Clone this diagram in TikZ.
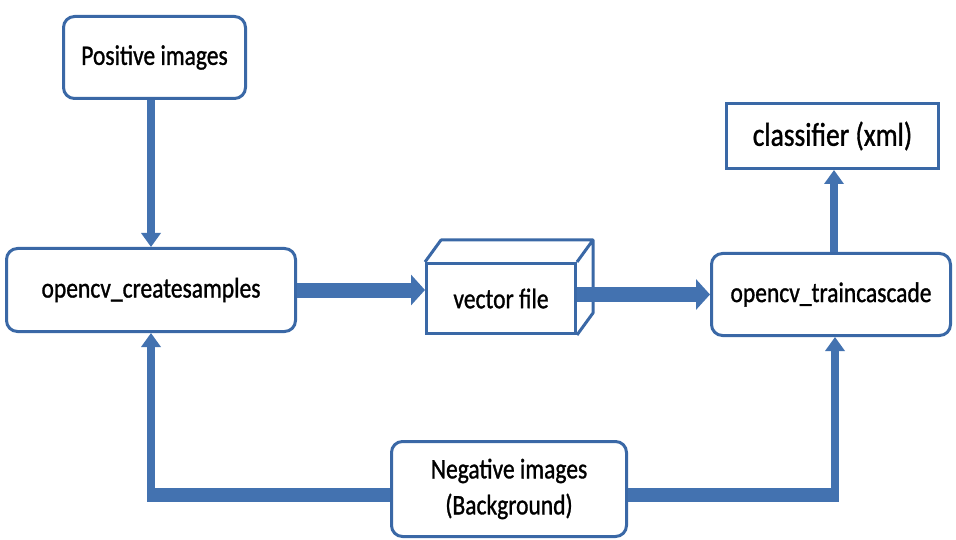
\documentclass[tikz,border=0pt]{standalone}
\usepackage{fontspec}
\usepackage{graphicx}
\setmainfont{Carlito}
\newfontfamily\lblfont[FakeBold=1.2]{Carlito}
\usetikzlibrary{arrows.meta}
\definecolor{boxblue}{HTML}{3A68A6}
\definecolor{flowblue}{HTML}{4372B0}
% label text, set a little taller than the face's natural proportions
\newcommand{\lbl}[1]{\scalebox{0.98}[1.18]{#1}}
\tikzset{
  stage/.style={draw=boxblue, line width=3pt, fill=white, rounded corners=11pt,
    font=\lblfont\fontsize{24}{36}\selectfont, align=center, inner sep=0pt},
  plainbox/.style={stage, rounded corners=0pt},
  thinflow/.style={draw=flowblue, line width=8pt,
    -{Triangle[length=14pt,width=19pt]}},
  thickflow/.style={draw=flowblue, line width=15pt,
    -{Triangle[length=14pt,width=30pt]}},
  bar/.style={draw=flowblue, line width=14pt}
}
\begin{document}
\begin{tikzpicture}[x=1pt,y=-1pt]
\useasboundingbox (0,0) rectangle (956,540);

% process boxes
\node[stage, minimum width=182pt, minimum height=82pt] (pos) at (154.5,57.5) {\lbl{Positive images}};
\node[stage, minimum width=289pt, minimum height=83pt] (cs) at (151,290) {\lbl{opencv\_createsamples}};
\node[stage, minimum width=239pt, minimum height=82pt] (tc) at (831,294.5) {\lbl{opencv\_traincascade}};
\node[plainbox, minimum width=212pt, minimum height=65pt, font=\lblfont\fontsize{28}{34}\selectfont] (cls) at (832.5,136) {\lbl{classifier (xml)}};
\node[stage, minimum width=235pt, minimum height=95pt] (neg) at (509,489) {\lbl{Negative images}\\\lbl{(Background)}};

% vector file drawn as a box in perspective
\node[plainbox, minimum width=149pt, minimum height=70pt] (vec) at (501,298.5) {\lbl{vector file}};
\draw[draw=boxblue, line width=3pt, line join=round]
  (vec.north west) -- ++(16,-22) -| ([shift={(16,-22)}]vec.south east) -- (vec.south east)
  (vec.north east) -- ++(16,-22);

% main flow
\draw[thinflow] (cs.north |- pos.south) -- (cs.north);
\draw[thickflow] (cs.east) -- (vec.west |- cs.east);
\draw[thickflow] (vec.east |- tc.west) -- (tc.west);
\draw[thinflow] ([xshift=3pt]tc.north) -- ([xshift=3pt]tc.north |- cls.south);

% negative samples feed both tools
\coordinate (bl) at (151,494.5);
\coordinate (br) at (835,494.5);
\draw[bar] (neg.west |- bl) -- ([xshift=-4pt]bl);
\draw[bar] (neg.east |- br) -- ([xshift=4pt]br);
\draw[thinflow] ([yshift=-7pt]bl) -- (cs.south);
\draw[thinflow] ([yshift=-7pt]br) -- (br |- tc.south);
\end{tikzpicture}
\end{document}
